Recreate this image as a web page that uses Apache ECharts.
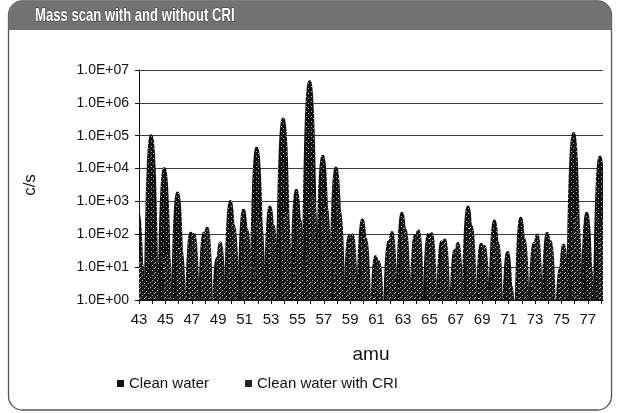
<!DOCTYPE html>
<html>
<head>
<meta charset="utf-8">
<style>
  html, body { margin: 0; padding: 0; background: #fff; }
  #chart { width: 617px; height: 413px; }
</style>
<script src="https://cdn.jsdelivr.net/npm/echarts@6/dist/echarts.min.js"></script>
</head>
<body>
<div id="chart"></div>
<script>
// masses (amu) and peak heights (c/s)
const masses = [43, 44, 45, 46, 47, 48, 49, 50, 51, 52, 53, 54, 55, 56, 57, 58, 59, 60,
                61, 62, 63, 64, 65, 66, 67, 68, 69, 70, 71, 72, 73, 74, 75, 76, 77, 78];
const cleanWater = [500, 110000, 11000, 2000, 120, 120, 20, 1100, 600, 47000, 750, 360000,
                    2400, 4900000, 26000, 11500, 95, 300, 23, 65, 480, 100, 110, 65, 35, 750,
                    55, 280, 31, 340, 58, 118, 10, 130000, 480, 25000];
const cleanWaterCri = [15, 20, 30, 40, 110, 170, 60, 200, 150, 300, 200, 500,
                       300, 1500, 800, 600, 105, 80, 16, 125, 150, 140, 115, 75, 58, 200,
                       47, 60, 3, 80, 105, 66, 52, 400, 12, 300];
const xTickLabels = [43, 45, 47, 49, 51, 53, 55, 57, 59, 61, 63, 65, 67, 69, 71, 73, 75, 77];
const yTickLabels = ['1.0E+00', '1.0E+01', '1.0E+02', '1.0E+03', '1.0E+04', '1.0E+05', '1.0E+06', '1.0E+07'];

const FONT = "'Liberation Sans', Arial, sans-serif";

// speckled black fill, like the printed halftone
function speckle(bg, dots) {
    const c = document.createElement('canvas');
    c.width = 5; c.height = 5;
    const g = c.getContext('2d');
    g.fillStyle = bg;
    g.fillRect(0, 0, 5, 5);
    g.fillStyle = '#b5b5b5';
    dots.forEach(function (p) { g.fillRect(p[0], p[1], 1, 1); });
    return { image: c, repeat: 'repeat' };
}

// draws one peak as a bullet shape from the axis floor up to its value
function peakRenderer(shift, fill) {
    return function (params, api) {
        const m = api.value(0) + shift;
        const top = api.coord([m, api.value(1)]);
        const base = api.coord([m, 1]);
        const h = base[1] - top[1];
        const left = [], right = [];
        for (let i = 0; i <= 30; i++) {
            const t = i / 30;
            const d = h * t * t;
            const hw = 1.5 * Math.pow(d, 0.31);
            left.push([top[0] - hw, top[1] + d]);
            right.unshift([top[0] + hw, top[1] + d]);
        }
        return {
            type: 'polygon',
            shape: { points: left.concat(right) },
            style: { fill: fill }
        };
    };
}

const chart = echarts.init(document.getElementById('chart'), null, { renderer: 'canvas' });

const option = {
    animation: false,
    backgroundColor: '#fff',
    graphic: [
        {
            type: 'rect',
            z: -1,
            shape: { x: 8.5, y: 1, width: 603, height: 409, r: 14 },
            style: { fill: 'none', stroke: '#555', lineWidth: 1.3 }
        },
        {
            type: 'rect',
            z: -1,
            shape: { x: 8.5, y: 1, width: 603, height: 29, r: [14, 14, 0, 0] },
            style: { fill: '#727272' }
        },
        {
            type: 'text',
            x: 35,
            y: 16,
            scaleX: 0.69,
            style: {
                text: 'Mass scan with and without CRI',
                fill: '#fff',
                font: "bold 19px 'Liberation Sans', Arial, sans-serif",
                verticalAlign: 'middle',
                stroke: '#2a2a2a',
                lineWidth: 0.8,
                shadowColor: '#111',
                shadowOffsetX: 1,
                shadowOffsetY: 1
            }
        }
    ],
    legend: {
        left: 112,
        top: 371,
        itemWidth: 7,
        itemHeight: 7,
        itemGap: 36,
        icon: 'rect',
        textStyle: { fontFamily: FONT, fontSize: 15, color: '#111' },
        data: ['Clean water', 'Clean water with CRI']
    },
    grid: { left: 139, right: 14, top: 70, bottom: 113 },
    xAxis: {
        type: 'value',
        min: 43,
        max: 78.15,
        name: 'amu',
        nameLocation: 'middle',
        nameGap: 45,
        nameTextStyle: { fontFamily: FONT, fontSize: 19, color: '#111' },
        axisLine: { show: true, lineStyle: { color: '#111', width: 1 } },
        axisTick: { show: true, length: 4, customValues: masses, lineStyle: { color: '#111' } },
        axisLabel: {
            customValues: xTickLabels,
            margin: 12,
            fontFamily: FONT,
            fontSize: 15,
            color: '#111'
        },
        splitLine: { show: false }
    },
    yAxis: {
        type: 'log',
        logBase: 10,
        min: 1,
        max: 10000000,
        splitNumber: 7,
        name: 'c/s',
        nameLocation: 'middle',
        nameRotate: 90,
        nameGap: 100,
        nameTextStyle: { fontFamily: FONT, fontSize: 17, color: '#111' },
        axisLine: { show: true, lineStyle: { color: '#111', width: 1 } },
        axisTick: { show: true, length: 4, lineStyle: { color: '#111' } },
        axisLabel: {
            margin: 10,
            fontFamily: FONT,
            fontSize: 14,
            color: '#111',
            formatter: function (v) {
                const k = Math.round(Math.log10(v));
                return yTickLabels[k] || '';
            }
        },
        splitLine: { show: true, lineStyle: { color: '#3c3c3c', width: 1 } }
    },
    series: [
        {
            name: 'Clean water',
            type: 'custom',
            clip: true,
            itemStyle: { color: '#111' },
            renderItem: peakRenderer(-0.08, speckle('#111', [[1, 1], [3, 3]])),
            data: masses.map(function (m, i) { return [m, cleanWater[i]]; })
        },
        {
            name: 'Clean water with CRI',
            type: 'custom',
            clip: true,
            itemStyle: { color: '#222' },
            renderItem: peakRenderer(0.16, speckle('#1c1c1c', [[0, 2], [2, 0], [4, 3]])),
            data: masses.map(function (m, i) { return [m, cleanWaterCri[i]]; })
        }
    ]
};

chart.setOption(option);
</script>
</body>
</html>
